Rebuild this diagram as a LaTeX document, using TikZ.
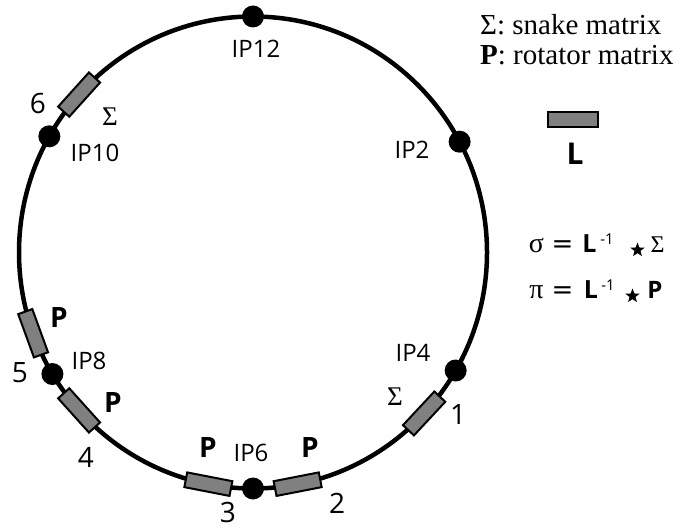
\documentclass[tikz,border=0pt]{standalone}
\usepackage{fontspec}
\setmainfont{Open Sans}
\newfontfamily\serif{Liberation Serif}
\newfontfamily\symf{DejaVu Sans}
\usetikzlibrary{calc,shapes.geometric}
\newcommand\fsz[1]{\fontsize{#1}{#1}\selectfont}
\newcommand\ringpt[1]{({253+234*cos(#1)},{252.5-236*sin(#1)})}
\definecolor{magfill}{RGB}{128,128,128}
\tikzset{
  ring/.style={line width=4.5pt},
  ipdot/.style={circle, fill=black, minimum size=22pt, inner sep=0pt},
  mag/.style={draw=black, line width=2pt, fill=magfill, minimum width=46pt, minimum height=15pt, inner sep=0pt},
  iplab/.style={font=\fsz{24}, inner sep=0pt},
  numlab/.style={font=\fsz{28}, inner sep=0pt},
  plab/.style={font=\bfseries\fsz{28}, inner sep=0pt},
  siglab/.style={font=\serif\fsz{27}, inner sep=0pt},
  legend/.style={font=\serif\fsz{29}, inner sep=0pt, anchor=base west},
  fpart/.style={inner sep=0pt, anchor=base},
  opstar/.style={star, star points=5, star point ratio=2.4, fill=black, inner sep=0pt, minimum size=15pt},
}
\begin{document}
\begin{tikzpicture}[x=1pt,y=-1pt]
\useasboundingbox (0,0) rectangle (692,529);
\draw[ring] (253,252.5) ellipse [x radius=234, y radius=236];
% interaction points
\node[ipdot] (ip12) at \ringpt{90} {};
\node[ipdot] (ip2) at \ringpt{28} {};
\node[ipdot] (ip10) at \ringpt{150.5} {};
\node[ipdot] (ip8) at \ringpt{211} {};
\node[ipdot] (ip6) at \ringpt{270} {};
\node[ipdot] (ip4) at \ringpt{330} {};
% magnets
\node[mag, rotate=228] (m6) at \ringpt{138} {};
\node[mag, rotate=290] (m5) at \ringpt{200} {};
\node[mag, rotate=312] (m4) at \ringpt{222} {};
\node[mag, rotate=349] (m3) at \ringpt{259} {};
\node[mag, rotate=371] (m2) at \ringpt{281} {};
\node[mag, rotate=407] (m1) at \ringpt{317} {};
% IP labels
\node[iplab] (l12) at (256,49) {IP12};
\node[iplab] (l10) at (95,153) {IP10};
\node[iplab] (l2) at (412,150) {IP2};
\node[iplab] (l8) at (89,361) {IP8};
\node[iplab] (l6) at (251,453) {IP6};
\node[iplab] (l4) at (413,353) {IP4};
% numbers
\node[numlab] (n6) at (38,104) {6};
\node[numlab] (n5) at (20,373) {5};
\node[numlab] (n4) at (86,457) {4};
\node[numlab] (n3) at (228,512) {3};
\node[numlab] (n2) at (337,503) {2};
\node[numlab] (n1) at (458,415) {1};
% magnet type labels
\node[siglab] (s6) at (110,117) {Σ};
\node[siglab] (s1) at (395,397) {Σ};
\node[plab] (p5) at (59,318) {P};
\node[plab] (p4) at (113,403) {P};
\node[plab] (p3) at (208,448) {P};
\node[plab] (p2) at (310,448) {P};
% legend
\node[legend] (leg1) at (480,35) {Σ: snake matrix};
\node[legend] (leg2) at (480,65) {\textbf{P}: rotator matrix};
\node[mag, minimum width=50pt] (lbox) at (573,120) {};
\node[font=\bfseries\fsz{30}, inner sep=0pt] (llab) at (575,154) {L};
% formula 1
\node[fpart, font=\serif\fsz{28}] (f1a) at (536.5,252) {σ};
\node[fpart, font=\symf\fsz{26}] (f1b) at (562.5,252) {=};
\node[fpart, font=\bfseries\fsz{25}] (f1c) at (589.5,252) {L};
\node[fpart, font=\fsz{15}] (f1d) at (607,244) {-1};
\node[opstar] (f1e) at (637.5,250) {};
\node[fpart, font=\serif\fsz{24}] (f1f) at (657.5,252) {Σ};
% formula 2
\node[fpart, font=\serif\fsz{28}] (f2a) at (536.5,298) {π};
\node[fpart, font=\symf\fsz{26}] (f2b) at (562.5,298) {=};
\node[fpart, font=\bfseries\fsz{25}] (f2c) at (591,298) {L};
\node[fpart, font=\fsz{15}] (f2d) at (608,290) {-1};
\node[opstar] (f2e) at (632.5,296) {};
\node[fpart, font=\bfseries\fsz{24}] (f2f) at (655,298) {P};
\end{tikzpicture}
\end{document}
